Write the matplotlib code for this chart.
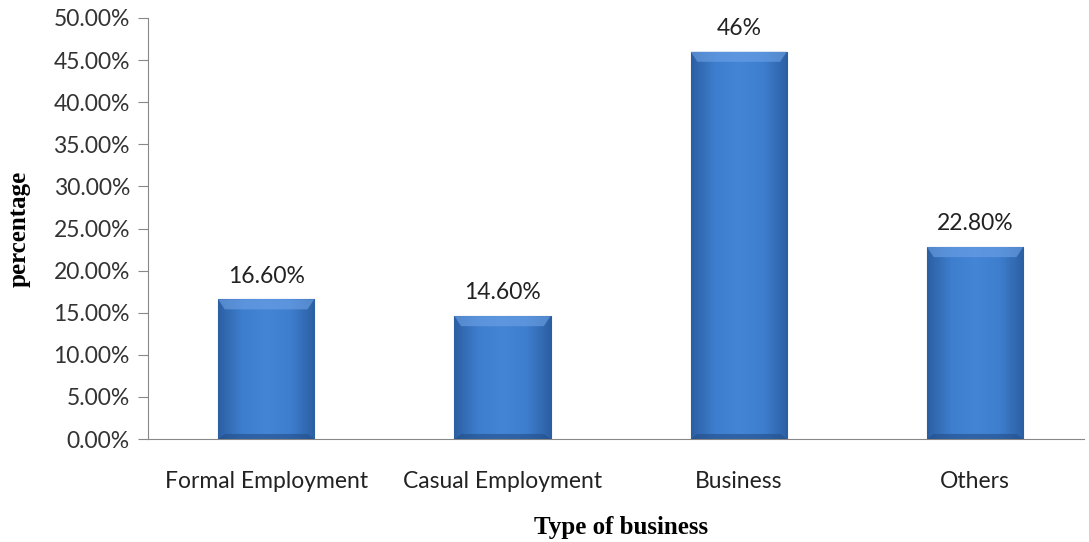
import numpy as np
import matplotlib
matplotlib.use("Agg")
import matplotlib.pyplot as plt
from matplotlib.colors import LinearSegmentedColormap

categories = ["Formal Employment", "Casual Employment", "Business", "Others"]
values = [0.166, 0.146, 0.46, 0.228]
value_labels = ["16.60%", "14.60%", "46%", "22.80%"]
yticks = [0.0, 0.05, 0.10, 0.15, 0.20, 0.25, 0.30, 0.35, 0.40, 0.45, 0.50]

SANS = "Lato"
SERIF = "Liberation Serif"

fig = plt.figure(figsize=(10.89, 5.42), dpi=100)
ax = fig.add_axes([0.1359, 0.190, 0.868, 0.7768])

x = np.arange(len(categories))
bars = ax.bar(x, values, width=0.407, color="#3F7FCF", edgecolor="#2B5C9E",
              linewidth=0.8, zorder=2)

# bevel-ish shading across each bar
cmap = LinearSegmentedColormap.from_list(
    "bevel", ["#2C5FA3", "#3E7ECE", "#4585D6", "#3E7ECE", "#2C5FA3"])
grad = np.linspace(0, 1, 200).reshape(1, -1)
for b in bars:
    x0, w, h = b.get_x(), b.get_width(), b.get_height()
    im = ax.imshow(grad, extent=[x0, x0 + w, 0, h], aspect="auto",
                   cmap=cmap, zorder=2.5)
    im.set_clip_path(b)
    # lighter top band
    ax.fill([x0, x0 + w, x0 + w * 0.93, x0 + w * 0.07],
            [h, h, h - 0.012, h - 0.012], color="#6FA3E6", alpha=0.6,
            zorder=3, lw=0)
    # darker bottom band
    ax.fill([x0, x0 + w, x0 + w * 0.93, x0 + w * 0.07],
            [0, 0, 0.006, 0.006], color="#234E88", alpha=0.6,
            zorder=3, lw=0)

for xi, v, lab in zip(x, values, value_labels):
    ax.text(xi, v + 0.015, lab, ha="center", va="bottom", fontsize=16.5,
            color="#222222", family=SANS)

ax.set_xlim(-0.5, len(categories) - 0.5)
ax.set_ylim(0, 0.5)
ax.set_yticks(yticks)
ax.set_yticklabels([f"{t*100:.2f}%" for t in yticks], fontsize=16.5,
                   color="#333333", family=SANS)
ax.set_xticks(x)
ax.set_xticklabels(categories, fontsize=16.5, color="#222222", family=SANS)
ax.tick_params(axis="x", length=0, pad=23)
ax.tick_params(axis="y", length=7, color="#888888", pad=6)

for side in ["top", "right"]:
    ax.spines[side].set_visible(False)
ax.spines["left"].set_color("#888888")
ax.spines["bottom"].set_color("#888888")
ax.spines["bottom"].set_bounds(-0.5, 3.46)

ax.set_xlabel("Type of business", fontsize=18, fontweight="bold",
              family=SERIF, labelpad=17)
ax.set_ylabel("percentage", fontsize=18, fontweight="bold", family=SERIF)
ax.yaxis.set_label_coords(-0.124, 0.5)

fig.savefig("out.png", dpi=100)
